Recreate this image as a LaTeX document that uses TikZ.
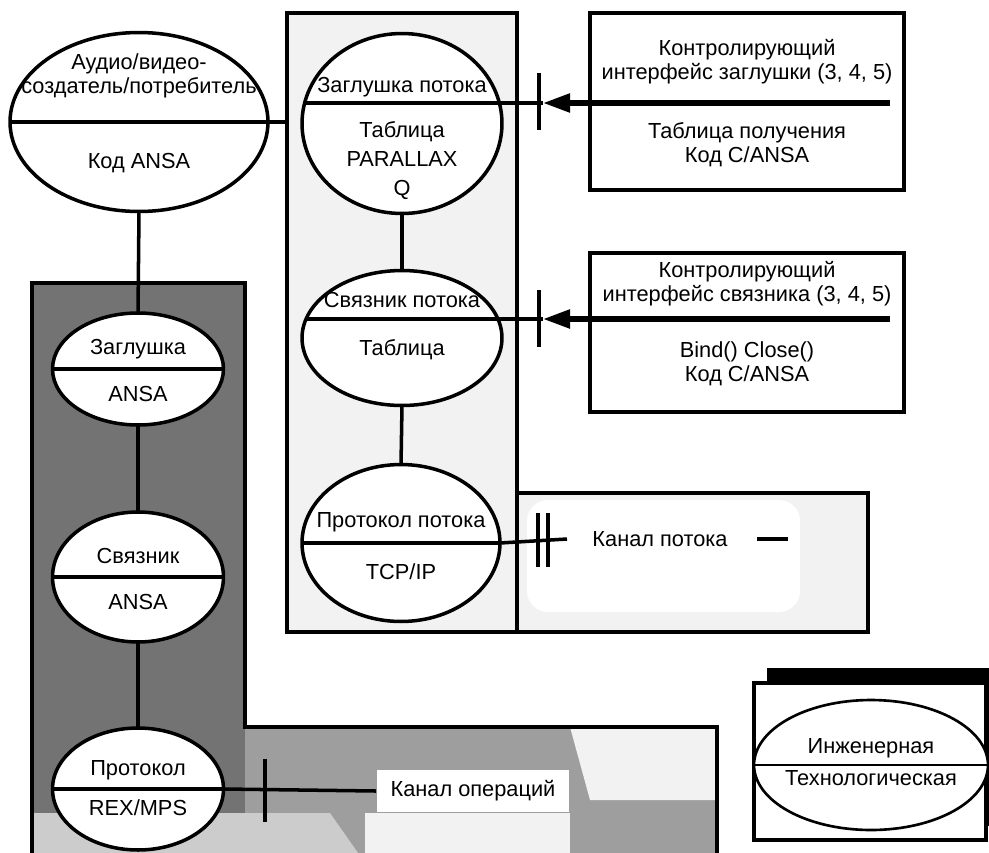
\documentclass[tikz,border=0pt]{standalone}
\usepackage{fontspec}
\setmainfont{Liberation Sans}
\usetikzlibrary{arrows.meta,positioning,calc,shapes.geometric}

\begin{document}
\begin{tikzpicture}[
    x=0.02cm, y=-0.02cm,
    font=\fontsize{12.4}{13.8}\selectfont,
    unit/.style={draw,ellipse,line width=2pt,fill=white,inner sep=0pt,outer sep=0pt},
    frame/.style={draw,line width=2pt,inner sep=0pt,outer sep=0pt},
    lbl/.style={align=center,inner sep=1pt},
    wire/.style={line width=2pt},
    bus/.style={line width=3pt},
    tick/.style={line width=2.6pt},
    ptr/.style={-{Triangle[length=5.4mm,width=3.6mm]}},
]
\definecolor{darkfill}{gray}{0.45}
\definecolor{bandmid}{gray}{0.62}
\definecolor{bandlight}{gray}{0.8}
\definecolor{stipple}{gray}{0.95}

\useasboundingbox (0,0) rectangle (989,852);

% ================= engineering panel (dark L) =================
\fill[darkfill] (32,283) -- (245,283) -- (245,727) -- (717,727) -- (717,870) -- (32,870) -- cycle;
\fill[bandmid] (245,727) rectangle (717,870);
\fill[bandlight] (32,813) -- (330,813) -- (370,870) -- (32,870) -- cycle;
\fill[stipple] (570,727) -- (717,727) -- (717,800) -- (590,800) -- cycle;
\fill[stipple] (365,813) rectangle (570,870);
\draw[line width=2pt] (32,870) -- (32,283) -- (245,283) -- (245,727) -- (717,727) -- (717,870);

% ================= stream panel + channel =================
\node[frame,fill=stipple,minimum width=4.6cm,minimum height=12.38cm] (flow) at (402,322.5) {};
\node[frame,fill=stipple,minimum width=7.02cm,minimum height=2.78cm] (chbox) at (692.5,562.5) {};
\fill[white,rounded corners=12pt] (527,500) rectangle (800,612);

% ================= control boxes =================
\node[frame,minimum width=6.28cm,minimum height=3.54cm] (ctl1) at (747,101.5) {};
\node[frame,minimum width=6.28cm,minimum height=3.18cm] (ctl2) at (747,332.5) {};
\node[lbl] at (747,61.5) {Контролирующий\\интерфейс заглушки (3, 4, 5)};
\node[lbl] at (747,145) {Таблица получения\\Код C/ANSA};
\node[lbl] at (747,283.5) {Контролирующий\\интерфейс связника (3, 4, 5)};
\node[lbl] at (747,364) {Bind() Close()\\Код C/ANSA};

% ================= units =================
\node[unit,minimum width=5.16cm,minimum height=3.58cm] (av) at (139,122) {};
\node[unit,minimum width=4cm,minimum height=3.6cm] (zp) at (402,123.5) {};
\node[unit,minimum width=4cm,minimum height=2.7cm] (sp) at (402,338) {};
\node[unit,minimum width=3.96cm,minimum height=3.14cm] (pp) at (401,543) {};
\node[unit,minimum width=3.42cm,minimum height=2.24cm] (stub) at (138,369) {};
\node[unit,minimum width=3.42cm,minimum height=2.6cm] (bnd) at (138,577) {};
\node[unit,minimum width=3.42cm,minimum height=2.44cm] (prt) at (138,789) {};

% chords above centre for the two upper stream units
\coordinate (zpL) at ($(zp.center)+(-97.4,-20.5)$);  \coordinate (zpR) at ($(zp.center)+(97.4,-20.5)$);
\coordinate (spL) at ($(sp.center)+(-96,-19)$);      \coordinate (spR) at ($(sp.center)+(96,-19)$);

\draw[wire] (av.west) -- (av.east);
\draw[wire] (zpL) -- (zpR);
\draw[wire] (spL) -- (spR);
\draw[wire] (pp.west) -- (pp.east);
\draw[wire] (stub.west) -- (stub.east);
\draw[wire] (bnd.west) -- (bnd.east);
\draw[wire] (prt.west) -- (prt.east);

\node[lbl] at (139,76) {Аудио/видео-\\создатель/потребитель};
\node[lbl] at (139,163) {Код ANSA};
\node[lbl] at (402,87) {Заглушка потока};
\node[lbl,font=\fontsize{12.4}{16.5}\selectfont] at (402,161) {Таблица\\PARALLAX\\Q};
\node[lbl] at (402,300) {Связник потока};
\node[lbl] at (402,350) {Таблица};
\node[lbl] at (401,522) {Протокол потока};
\node[lbl] at (401,572) {TCP/IP};
\node[lbl] at (138,349) {Заглушка};
\node[lbl] at (138,394) {ANSA};
\node[lbl] at (138,556) {Связник};
\node[lbl] at (138,602) {ANSA};
\node[lbl] at (138,770) {Протокол};
\node[lbl] at (138,808) {REX/MPS};

% ================= links =================
\draw[wire] (av.east) -- (av.east -| flow.west);
\draw[wire] (av.south) -- (stub.north);
\draw[wire] (stub.south) -- (bnd.north);
\draw[wire] (bnd.south) -- (prt.north);
\draw[wire] (zp.south) -- (sp.north);
\draw[wire] (sp.south) -- (pp.north);

% control interfaces
\coordinate (tip1) at (543,103);  \coordinate (src1) at (890,103);
\coordinate (tip2) at (543,319);  \coordinate (src2) at (890,319);
\draw[wire] (zpR) -- (tip1);
\draw[bus,ptr] (src1) -- (tip1);
\draw[tick] ($(tip1)+(-4,-30)$) -- ($(tip1)+(-4,27)$);
\draw[wire] (spR) -- (tip2);
\draw[bus,ptr] (src2) -- (tip2);
\draw[tick] ($(tip2)+(-4,-29)$) -- ($(tip2)+(-4,28)$);

% stream channel
\node[lbl] (chan) at (660,539) {Канал потока};
\coordinate (ch1) at (567,539);  \coordinate (ch2) at (788,539);
\draw[wire] (pp.east) -- (ch1);
\draw[tick,line width=2pt] ($(ch1)+(-29,-26)$) -- ($(ch1)+(-29,28)$);
\draw[tick,line width=2pt] ($(ch1)+(-19,-26)$) -- ($(ch1)+(-19,28)$);
\draw[wire] (ch2) -- ++(-31,0);

% operations channel
\node[lbl,fill=white,inner sep=0pt,minimum width=3.86cm,minimum height=0.84cm] (ops) at (473,791) {Канал операций};
\draw[wire] (prt.east) -- (ops.west);
\draw[tick,line width=2pt] (265,759) -- (265,822);

% ================= legend =================
\fill[black] (767,668) rectangle (995,826);
\node[frame,fill=white,minimum width=4.64cm,minimum height=3.14cm] (legbox) at (870,761.5) {};
\node[unit,line width=1.5pt,minimum width=4.68cm,minimum height=2.6cm] (eng) at (871,765) {};
\draw[line width=1.5pt] (eng.west) -- (eng.east);
\node[lbl] at (871,748) {Инженерная};
\node[lbl] at (871,778) {Технологическая};

\end{tikzpicture}
\end{document}
